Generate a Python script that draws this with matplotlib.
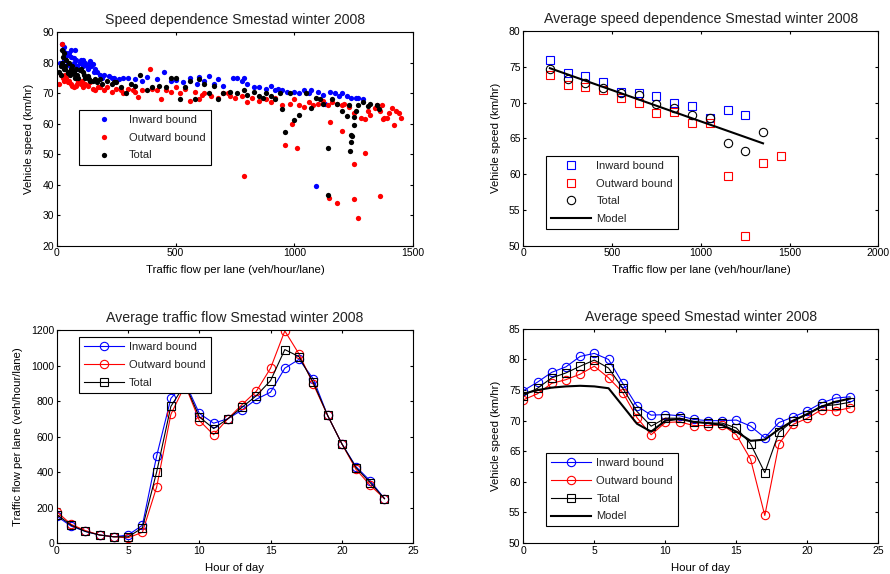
import matplotlib.pyplot as plt
import numpy as np

plt.rcParams['font.family'] = ['Liberation Sans', 'DejaVu Sans']
plt.rcParams['xtick.direction'] = 'in'
plt.rcParams['ytick.direction'] = 'in'
plt.rcParams['xtick.top'] = True
plt.rcParams['ytick.right'] = True
plt.rcParams['xtick.major.size'] = 2.5
plt.rcParams['ytick.major.size'] = 2.5
plt.rcParams['xtick.labelsize'] = 7.5
plt.rcParams['ytick.labelsize'] = 7.5
plt.rcParams['axes.linewidth'] = 0.8
plt.rcParams['text.color'] = '#222222'

# ---- panel 1: raw scatter (flow, speed) ----
in_flow = [12, 20, 25, 30, 35, 40, 45, 50, 55, 60, 65, 70, 75, 80, 85, 90, 95, 100, 110, 120,
           130, 140, 145, 150, 160, 170, 180, 200, 220, 240, 260, 280, 300, 330, 360, 380, 420,
           450, 480, 500, 530, 560, 590, 600, 620, 640, 660, 680, 700, 740, 760, 780, 790, 800,
           830, 850, 880, 900, 920, 930, 950, 970, 1000, 1020, 1040, 1060, 1070, 1100, 1120,
           1130, 1150, 1170, 1190, 1200, 1220, 1240, 1260, 1270, 1290, 1090, 60, 110, 140,
           30, 45, 70, 95, 125, 155, 190, 230]
in_speed = [80, 86, 84, 85, 82, 83, 80, 83, 79, 82, 78, 80, 84, 81, 79, 78, 80, 81, 79, 80,
            78, 80, 79, 79.5, 78, 77, 76, 76, 75.5, 75, 74.5, 75, 75, 74.5, 74, 75.2, 74.5,
            77, 74, 74.2, 73.5, 75, 73, 75.3, 74, 75.5, 73, 74.5, 72.5, 75, 75, 74, 75, 73,
            72, 72, 71.5, 72.5, 71, 71.5, 71, 70.5, 70.5, 70, 71, 70, 71, 70.5, 69.5,
            66.5, 70.5, 70, 69, 70, 69, 68.5, 68.5, 68.5, 68, 39.5, 84, 81, 80.5,
            81, 82.5, 81.5, 80, 79, 77, 75, 75]

out_flow = [8, 15, 20, 25, 30, 35, 40, 50, 60, 70, 80, 90, 100, 110, 120, 130, 150, 160, 180,
            200, 210, 230, 250, 280, 300, 320, 340, 360, 390, 400, 420, 440, 460, 480, 500,
            520, 540, 560, 580, 600, 620, 650, 680, 700, 730, 750, 780, 800, 820, 850, 880,
            900, 920, 950, 980, 1000, 1020, 1040, 1060, 1080, 1100, 1120, 1140, 1160, 1180,
            1200, 1210, 1230, 1250, 1280, 1300, 1310, 1320, 1340, 1350, 1360, 1370, 1380,
            1390, 1400, 1410, 1420, 1430, 1440, 1450, 1375,
            790, 960, 990, 1010, 1145, 1150, 1180, 1200, 1250, 1250, 1270, 1300, 1360,
            45, 65, 85, 105, 140, 175, 270, 330, 610, 720]
out_speed = [73, 76, 86, 75, 74, 76, 75, 74, 73, 72, 72.5, 74, 73, 72, 73, 72.5, 71.5, 71,
             72, 71, 72, 70.5, 71.5, 70, 71.5, 71, 68.8, 71, 78, 71.5, 71, 68, 71, 70.5, 72,
             70, 71.5, 67.5, 70.5, 68, 70, 69, 68.5, 70, 69, 68.5, 69, 67, 68.5, 67.5, 68,
             67, 68.5, 66, 66.5, 68, 66, 65.5, 67, 66, 66.5, 67.5, 66, 67, 66.5,
             66, 66.5, 65.5, 63.5, 61.7, 61.5, 64, 63, 65, 66, 64, 66, 62, 62, 63.5, 65, 59.5,
             64, 63.5, 62, 61.5,
             43, 53, 60, 52, 35.5, 60.5, 34, 57.5, 46.7, 35.3, 29, 50.5, 36.2,
             73.5, 72.5, 73, 74, 73.5, 72, 71, 70.5, 69.5, 70]

tot_flow = [10, 15, 20, 22, 25, 28, 30, 35, 40, 45, 50, 55, 60, 65, 70, 75, 80, 85, 90, 100,
            110, 120, 130, 140, 150, 160, 170, 190, 210, 230, 250, 270, 290, 310, 330, 350,
            380, 400, 430, 460, 480, 500, 520, 540, 560, 580, 600, 620, 640, 660, 680, 700,
            730, 760, 790, 800, 830, 850, 870, 880, 900, 920, 940, 950, 960, 980, 1000, 1020,
            1050, 1070, 1090, 1110, 1120, 1140, 1140, 1160, 1180, 1200, 1220, 1230, 1235, 1240,
            1240, 1245, 1250, 1250, 1260, 1270, 1290, 1310, 1320, 1350, 1355,
            18, 32, 48, 62, 78, 95, 115, 135, 180, 240]
tot_speed = [77, 76, 84, 80, 82, 78, 83, 79, 81, 77, 80, 76, 78, 79, 77, 75, 78, 76, 75, 78,
             77, 75, 75.5, 74, 74, 74.5, 73.5, 73, 74, 73, 73.5, 72, 70, 73, 72.5, 76, 71,
             72, 72.5, 72, 75, 75, 68, 72, 74, 68, 74.5, 73, 70, 72.5, 68, 70, 70.5, 70,
             71, 69.5, 70.5, 69, 68.5, 70, 69, 68, 70, 64.8, 57.3, 70, 61.2, 63, 70, 65, 68.5,
             68, 66.5, 52, 36.5, 68, 66.5, 64, 62.5, 66, 51, 54, 56.2, 56, 59.6, 62.3, 64, 66,
             67, 65.8, 66.5, 66, 64.7,
             79, 78, 76.5, 77, 76, 77.5, 76, 74.5, 74.5, 73.5]

# ---- panel 2: binned averages ----
bin_flow = [150, 250, 350, 450, 550, 650, 750, 850, 950, 1050, 1150, 1250, 1350, 1450]
bin_in = [75.9, 74.1, 73.7, 72.9, 71.5, 71.3, 70.9, 69.9, 69.5, 67.8, 69.0, 68.2]
bin_out = [73.8, 72.5, 72.2, 71.7, 70.6, 70.0, 68.6, 68.7, 67.2, 67.2, 59.8, 51.3, 61.5, 62.5]
bin_tot = [74.7, 73.3, 72.7, 72.1, 71.4, 71.1, 69.8, 69.3, 68.3, 67.9, 64.3, 63.2, 65.9]
model_flow = [150, 1350]
model_speed = [74.8, 64.3]

# ---- panels 3/4: hourly profiles ----
hours = list(range(24))
flow_in = [150, 95, 65, 45, 35, 45, 100, 490, 815, 905, 730, 675, 700, 750, 810, 850,
           985, 1035, 925, 720, 560, 430, 350, 250]
flow_out = [175, 105, 70, 45, 35, 30, 60, 315, 725, 890, 690, 610, 700, 780, 855, 985,
            1195, 1065, 895, 720, 560, 415, 325, 250]
flow_tot = [160, 100, 65, 45, 35, 35, 85, 400, 770, 895, 710, 645, 700, 765, 830, 915,
            1090, 1050, 905, 720, 560, 425, 340, 250]

spd_in = [74.9, 76.3, 77.9, 78.8, 80.5, 81.0, 80.0, 76.1, 72.4, 70.9, 71.0, 70.8, 70.2,
          70.0, 70.0, 70.1, 69.1, 67.2, 69.7, 70.6, 71.6, 72.9, 73.7, 73.9]
spd_out = [73.4, 74.4, 76.1, 76.7, 77.6, 78.9, 77.0, 74.6, 70.5, 67.7, 69.7, 69.8, 69.2,
           69.2, 69.3, 67.7, 63.7, 54.5, 66.2, 69.4, 70.4, 71.8, 71.6, 72.1]
spd_tot = [74.1, 75.3, 77.0, 77.8, 78.9, 79.9, 78.6, 75.3, 71.5, 69.1, 70.4, 70.4, 69.8,
           69.6, 69.6, 68.8, 66.2, 61.5, 68.1, 70.0, 71.0, 72.4, 72.6, 73.0]
spd_model = [74.4, 75.0, 75.4, 75.6, 75.7, 75.6, 75.3, 72.4, 69.5, 68.2, 70.0, 70.3, 69.8,
             69.6, 69.3, 68.2, 66.7, 66.9, 68.6, 70.0, 71.1, 72.3, 73.1, 73.6]

fig = plt.figure(figsize=(8.9, 5.74), dpi=100)
ax1 = fig.add_axes([0.064, 0.572, 0.400, 0.372])
ax2 = fig.add_axes([0.588, 0.572, 0.399, 0.374])
ax3 = fig.add_axes([0.064, 0.054, 0.400, 0.371])
ax4 = fig.add_axes([0.588, 0.054, 0.399, 0.373])

blue = '#0000ff'
red = '#ff0000'
TITLE = 10.2
LABEL = 8.2


def legend(ax, x0, top, **kw):
    lg = ax.legend(loc='upper left', bbox_to_anchor=(x0, top), fontsize=8,
                   fancybox=False, edgecolor='black', framealpha=1,
                   borderpad=0.45, labelspacing=0.7, handlelength=3.6, handletextpad=0.45,
                   borderaxespad=0, **kw)
    lg.get_frame().set_linewidth(0.8)
    lg.set_zorder(10)
    return lg


def labels(ax, title, xl, yl):
    ax.set_title(title, fontsize=TITLE, pad=6)
    ax.set_xlabel(xl, fontsize=LABEL, labelpad=5)
    ax.set_ylabel(yl, fontsize=LABEL, labelpad=6)
    ax.tick_params(pad=2)


# panel 1
ax1.plot(in_flow, in_speed, 'o', color=blue, ms=3.8, mew=0, label='Inward bound')
ax1.plot(out_flow, out_speed, 'o', color=red, ms=3.8, mew=0, label='Outward bound')
ax1.plot(tot_flow, tot_speed, 'o', color='black', ms=3.8, mew=0, label='Total')
ax1.set_xlim(0, 1500)
ax1.set_ylim(20, 90)
ax1.set_xticks([0, 500, 1000, 1500])
ax1.set_yticks(range(20, 91, 10))
labels(ax1, 'Speed dependence Smestad winter 2008',
       'Traffic flow per lane (veh/hour/lane)', 'Vehicle speed (km/hr)')
legend(ax1, 0.062, 0.636)

# panel 2
ax2.plot(bin_flow[:len(bin_in)], bin_in, 's', color=blue, mfc='none', ms=6, mew=0.8,
         label='Inward bound')
ax2.plot(bin_flow, bin_out, 's', color=red, mfc='none', ms=6, mew=0.8, label='Outward bound')
ax2.plot(bin_flow[:len(bin_tot)], bin_tot, 'o', color='black', mfc='none', ms=6, mew=0.8,
         label='Total')
ax2.plot(model_flow, model_speed, '-', color='black', lw=1.5, label='Model')
ax2.set_xlim(0, 2000)
ax2.set_ylim(50, 80)
ax2.set_xticks(range(0, 2001, 500))
ax2.set_yticks(range(50, 81, 5))
labels(ax2, 'Average speed dependence Smestad winter 2008',
       'Traffic flow per lane (veh/hour/lane)', 'Vehicle speed (km/hr)')
legend(ax2, 0.065, 0.419)

# panel 3
ax3.plot(hours, flow_in, '-o', color=blue, mfc='none', ms=6, mew=0.8, lw=0.8,
         label='Inward bound')
ax3.plot(hours, flow_out, '-o', color=red, mfc='none', ms=6, mew=0.8, lw=0.8,
         label='Outward bound')
ax3.plot(hours, flow_tot, '-s', color='black', mfc='none', ms=6, mew=0.8, lw=0.8,
         label='Total')
ax3.set_xlim(0, 25)
ax3.set_ylim(0, 1200)
ax3.set_xticks(range(0, 26, 5))
ax3.set_yticks(range(0, 1201, 200))
labels(ax3, 'Average traffic flow Smestad winter 2008',
       'Hour of day', 'Traffic flow per lane (veh/hour/lane)')
legend(ax3, 0.062, 0.967)

# panel 4
ax4.plot(hours, spd_in, '-o', color=blue, mfc='none', ms=6, mew=0.8, lw=0.8,
         label='Inward bound')
ax4.plot(hours, spd_out, '-o', color=red, mfc='none', ms=6, mew=0.8, lw=0.8,
         label='Outward bound')
ax4.plot(hours, spd_tot, '-s', color='black', mfc='none', ms=6, mew=0.8, lw=0.8,
         label='Total')
ax4.plot(hours, spd_model, '-', color='black', lw=1.5, label='Model')
ax4.set_xlim(0, 25)
ax4.set_ylim(50, 85)
ax4.set_xticks(range(0, 26, 5))
ax4.set_yticks(range(50, 86, 5))
labels(ax4, 'Average speed Smestad winter 2008',
       'Hour of day', 'Vehicle speed (km/hr)')
legend(ax4, 0.065, 0.42)

fig.savefig('out.png', dpi=100)
